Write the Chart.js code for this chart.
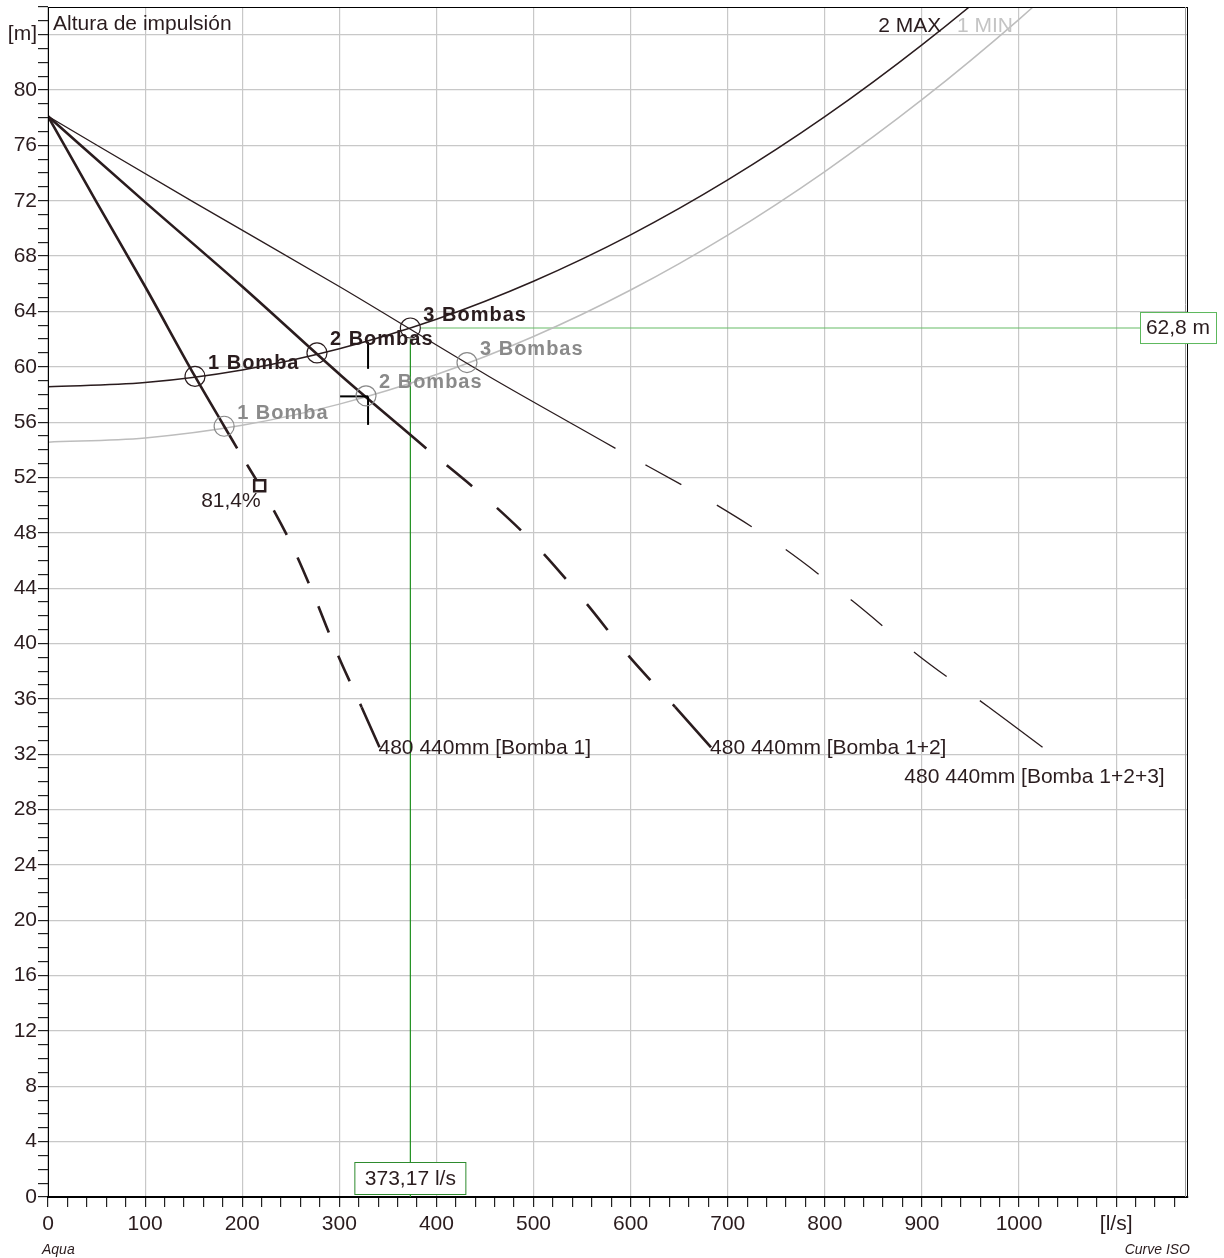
<!DOCTYPE html>
<html>
<head>
<meta charset="utf-8">
<script src="https://cdn.jsdelivr.net/npm/chart.js@4.4.0/dist/chart.umd.min.js"></script>
<style>
  body { margin: 0; background: #fff; }
  #wrap { width: 1224px; height: 1258px; }
</style>
</head>
<body>
<div id="wrap"><canvas id="myChart" width="1224" height="1258"></canvas></div>
<script>
// caudal [l/s] / altura [m]
var q1Solid = [0, 50, 100, 151.4, 181.4, 194.8];
var q1Dash = [194.8, 228.8, 252.5, 276, 299, 311.8, 323];
var q1Tail = [323, 341.4];
var hSolid = [78.1, 71.9, 65.8, 59.3, 55.7, 54.1];
var hDash = [54.1, 50.1, 46.9, 43.1, 39.1, 37.1, 35.4];
var hTail = [35.4, 32.5];
var q2Solid = [0, 100, 200, 302.8, 362.8, 389.6];
var q2Dash = [389.6, 457.6, 505, 552, 598, 623.6, 646];
var q2Tail = [646, 682.8];
var q3Solid = [0, 150, 300, 454.2, 544.2, 584.4];
var q3Dash = [584.4, 686.4, 757.5, 828, 897, 935.4, 969];
var q3Tail = [969, 1024.2];
var pumpNames = ['480 440mm [Bomba 1]', '480 440mm [Bomba 1+2]', '480 440mm [Bomba 1+2+3]'];

// curvas del sistema
var qSys = [0, 100, 200, 300, 400, 500, 600, 700, 800, 900, 1000, 1100];
var hMax = [58.55, 58.86, 59.77, 61.3, 63.43, 66.18, 69.53, 73.5, 78.07, 83.26, 89.05, 95.46];
var hMin = [54.55, 54.86, 55.77, 57.3, 59.44, 62.19, 65.55, 69.52, 74.11, 79.3, 85.11, 91.53];
var sysNames = ['2 MAX', '1 MIN'];
var sysNameQ = [855, 936];
var sysNameH = [84.6, 84.6];

// puntos de funcionamiento
var opNames = ['1 Bomba', '2 Bombas', '3 Bombas'];
var qOpMax = [151.4, 277, 373.17];
var hOpMax = [59.3, 61.0, 62.8];
var qOpMin = [181.4, 327.5, 431.5];
var hOpMin = [55.7, 57.9, 60.3];

// punto de trabajo
var qDuty = 373.17;
var hDuty = 62.8;
var dutyLabels = ['373,17 l/s', '62,8 m'];

// rendimiento
var qEff = [218];
var hEff = [51.4];
var effLabel = '81,4%';

// cruz de tolerancia
var tolQ = [300.8, 329.6];
var tolH = [57.86, 55.8, 59.85, 61.8];

var xMax = 1174, yMax = 86;
var dark = '#2a1c1e';
var font = '"Liberation Sans", Arial, sans-serif';

function pts(xs, ys) {
    return xs.map(function (x, i) { return { x: x, y: ys[i] }; });
}

var ctx = document.getElementById('myChart').getContext('2d');

var extras = {
    id: 'extras',
    afterDatasetsDraw: function (chart) {
        var c = chart.ctx, xs = chart.scales.x, ys = chart.scales.y, a = chart.chartArea;
        c.save();
        // marco
        c.strokeStyle = '#000';
        c.lineWidth = 1;
        c.strokeRect(a.left + 0.5, a.top + 0.5, a.right - a.left - 1, a.bottom - a.top);
        c.strokeStyle = '#999';
        c.beginPath(); c.moveTo(a.right - 2.5, a.top); c.lineTo(a.right - 2.5, a.bottom); c.stroke();

        c.fillStyle = dark;
        c.textBaseline = 'middle';
        c.font = '21px ' + font;
        c.textAlign = 'left';
        c.fillText('Altura de impulsión', a.left + 5, 24);

        // nombres curvas sistema
        c.fillStyle = dark;
        c.fillText(sysNames[0], xs.getPixelForValue(sysNameQ[0]), ys.getPixelForValue(sysNameH[0]));
        c.fillStyle = '#c4c4c4';
        c.fillText(sysNames[1], xs.getPixelForValue(sysNameQ[1]), ys.getPixelForValue(sysNameH[1]));

        // puntos de funcionamiento
        c.font = 'bold 20px ' + font;
        c.letterSpacing = '1px';
        for (var i = 0; i < opNames.length; i++) {
            c.fillStyle = dark;
            c.fillText(opNames[i], xs.getPixelForValue(qOpMax[i]) + 13, ys.getPixelForValue(hOpMax[i]) - 13);
            c.fillStyle = '#8a8a8a';
            c.fillText(opNames[i], xs.getPixelForValue(qOpMin[i]) + 13, ys.getPixelForValue(hOpMin[i]) - 13);
        }
        c.letterSpacing = '0px';

        // nombres curvas bomba
        c.font = '21px ' + font;
        c.fillStyle = dark;
        var ends = [q1Tail, q2Tail, q3Tail];
        for (var j = 0; j < 3; j++) {
            var ex = xs.getPixelForValue(ends[j][ends[j].length - 1]);
            var ey = ys.getPixelForValue(hTail[hTail.length - 1]);
            if (j < 2) {
                c.textAlign = 'left';
                c.fillText(pumpNames[j], ex - 1, ey + 1);
            } else {
                c.textAlign = 'center';
                c.fillText(pumpNames[j], ex - 8, ey + 30);
            }
        }

        // rendimiento
        c.textAlign = 'right';
        c.fillText(effLabel, xs.getPixelForValue(qEff[0]) + 1, ys.getPixelForValue(hEff[0]) + 15);

        // cajas punto de trabajo
        c.textAlign = 'center';
        var bx = xs.getPixelForValue(qDuty);
        c.fillStyle = '#fff';
        c.fillRect(bx - 55.5, a.bottom - 34, 111, 32);
        c.strokeStyle = '#2e8b2e';
        c.lineWidth = 1;
        c.strokeRect(bx - 55.5, a.bottom - 34.5, 111, 32);
        c.fillStyle = dark;
        c.fillText(dutyLabels[0], bx, a.bottom - 18);

        var by = ys.getPixelForValue(hDuty);
        c.fillStyle = '#fff';
        c.fillRect(a.right - 48, by - 15.5, 76, 31);
        c.strokeStyle = '#5cb85c';
        c.strokeRect(a.right - 47.5, by - 15.5, 76, 31);
        c.fillStyle = dark;
        c.fillText(dutyLabels[1], a.right - 10, by);

        // pie
        c.font = 'italic 14px ' + font;
        c.textAlign = 'left';
        c.fillText('Aqua', 42, 1250);
        c.textAlign = 'right';
        c.fillText('Curve ISO', 1190, 1250);
        c.restore();
    }
};

function line(data, color, width, dash, offset) {
    return {
        data: data, borderColor: color, borderWidth: width, pointRadius: 0,
        fill: false, cubicInterpolationMode: 'monotone',
        borderDash: dash || [], borderDashOffset: offset || 0
    };
}

var chart = new Chart(ctx, {
    type: 'line',
    data: {
        datasets: [
            { data: pts(qEff, hEff), showLine: false, pointStyle: 'rect', pointRadius: 7.8,
              pointBorderWidth: 2.5, pointBorderColor: dark, pointBackgroundColor: '#fff' },
            { data: pts(qOpMax, hOpMax), showLine: false, pointRadius: 10, pointBorderWidth: 1.2,
              pointBorderColor: dark, pointBackgroundColor: 'rgba(0,0,0,0)' },
            { data: pts(qOpMin, hOpMin), showLine: false, pointRadius: 10, pointBorderWidth: 1.2,
              pointBorderColor: '#8a8a8a', pointBackgroundColor: 'rgba(0,0,0,0)' },
            line(pts(tolQ, [tolH[0], tolH[0]]), '#000', 2),
            line(pts([tolQ[1], tolQ[1]], [tolH[0], tolH[1]]), '#000', 2),
            line(pts([tolQ[1], tolQ[1]], [tolH[2], tolH[3]]), '#000', 2),
            line(pts(q1Solid, hSolid), dark, 2.6),
            line(pts(q1Dash, hDash), dark, 2.6, [28, 25], 34),
            line(pts(q1Tail, hTail), dark, 2.6),
            line(pts(q2Solid, hSolid), dark, 2.6),
            line(pts(q2Dash, hDash), dark, 2.6, [33, 33], 39.6),
            line(pts(q2Tail, hTail), dark, 2.6),
            line(pts(q3Solid, hSolid), dark, 1.3),
            line(pts(q3Dash, hDash), dark, 1.3, [41, 41], 47.8),
            line(pts(q3Tail, hTail), dark, 1.3),
            line(pts(qSys, hMax), dark, 1.5),
            line(pts(qSys, hMin), '#bdbdbd', 1.5),
            line(pts([qDuty, qDuty], [0, hDuty - 0.8]), '#1f8f1f', 1.2),
            line(pts([qDuty + 11, xMax], [hDuty, hDuty]), '#66bb66', 1.2)
        ]
    },
    options: {
        responsive: false,
        animation: false,
        events: [],
        layout: { autoPadding: false, padding: { top: 7, right: 36, left: 0, bottom: 0 } },
        plugins: { legend: { display: false }, tooltip: { enabled: false } },
        scales: {
            x: {
                type: 'linear', min: 0, max: xMax,
                afterFit: function (s) { s.height = 61; s.paddingLeft = 0; s.paddingRight = 0; },
                border: { color: '#000', width: 2 },
                grid: {
                    color: function (c) { return c.tick && c.tick.value % 100 === 0 ? '#c8c8c8' : 'rgba(0,0,0,0)'; },
                    tickColor: '#222', tickLength: 10, lineWidth: 1.2
                },
                ticks: {
                    stepSize: 20, includeBounds: false, autoSkip: false, maxRotation: 0, padding: 5,
                    color: dark, font: { family: font, size: 21 },
                    callback: function (v) { return v % 100 === 0 ? (v === 1100 ? '[l/s]' : v) : ''; }
                }
            },
            y: {
                type: 'linear', min: 0, max: yMax,
                afterFit: function (s) { s.width = 48; s.paddingTop = 0; s.paddingBottom = 0; },
                border: { color: '#000', width: 1 },
                grid: {
                    color: function (c) { return c.tick && c.tick.value % 4 === 0 ? '#c8c8c8' : 'rgba(0,0,0,0)'; },
                    tickColor: '#222', tickLength: 10, lineWidth: 1.2
                },
                ticks: {
                    stepSize: 1, includeBounds: false, autoSkip: false, padding: 1,
                    color: dark, font: { family: font, size: 21 },
                    callback: function (v) { return v % 4 === 0 ? (v === 84 ? '[m]' : v) : ''; }
                }
            }
        }
    },
    plugins: [extras]
});
</script>
</body>
</html>
